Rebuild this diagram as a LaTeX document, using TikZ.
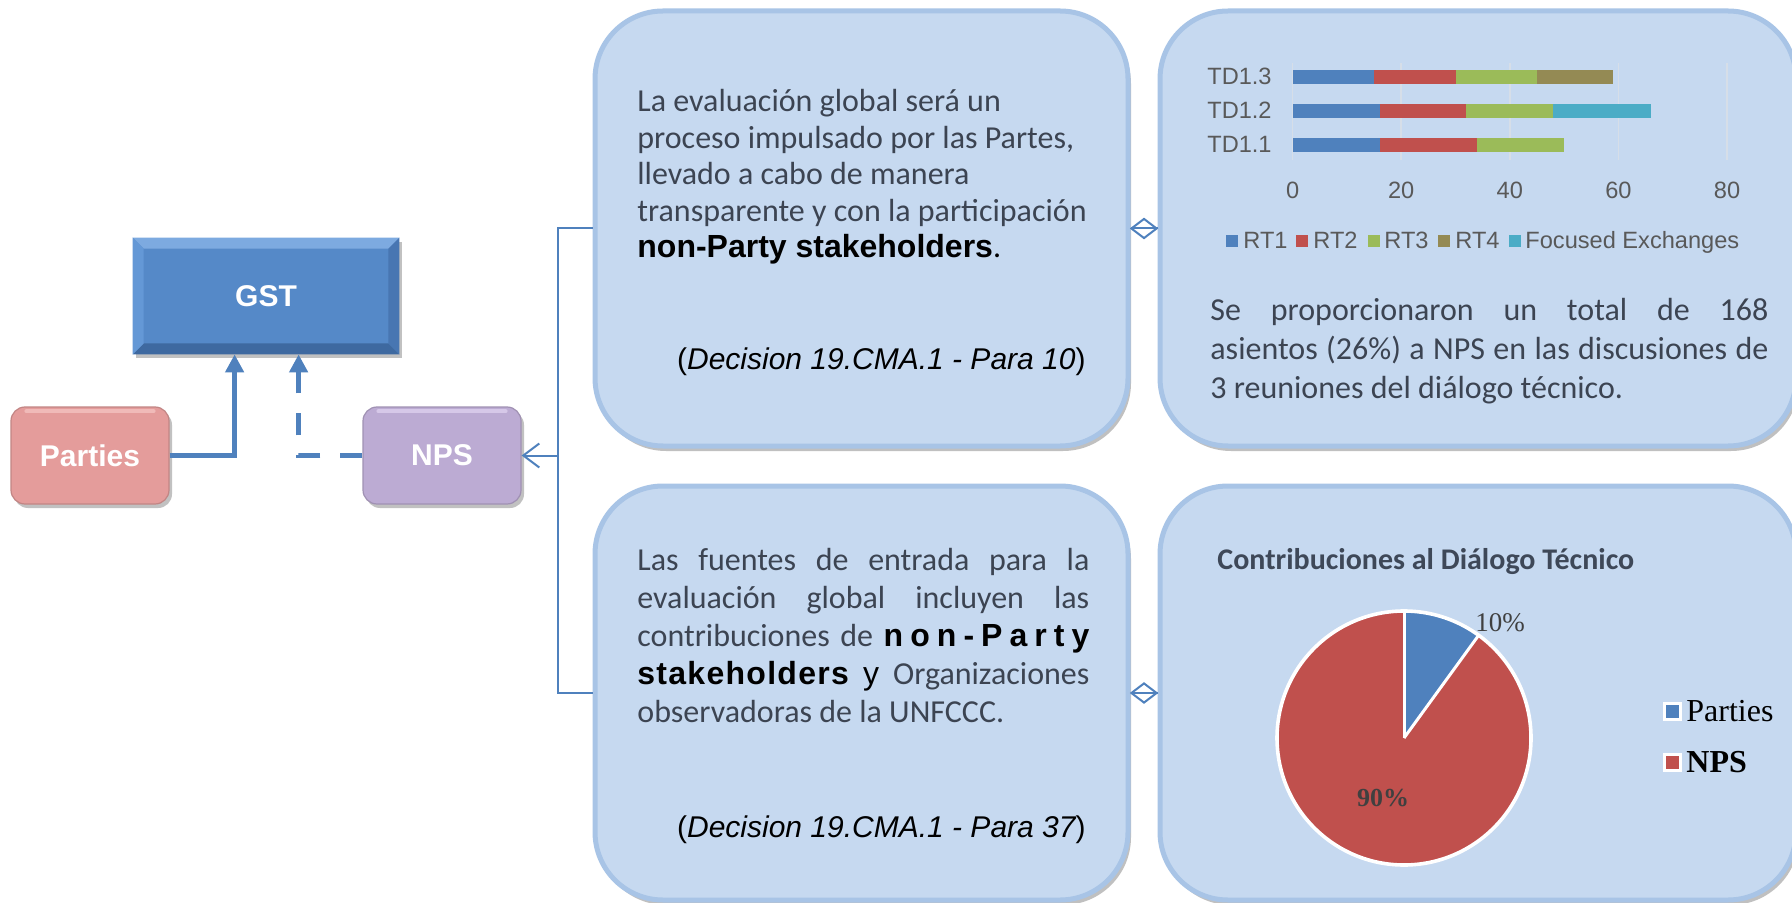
\documentclass[tikz,border=0pt]{standalone}
\usepackage{fontspec}
\setmainfont{Carlito}
\newfontfamily\arialf{Liberation Sans}
\newfontfamily\timesf{Liberation Serif}
\newfontfamily\spacedf[LetterSpace=22]{Liberation Sans}
\newfontfamily\lspacedf[LetterSpace=4]{Liberation Sans}
\usetikzlibrary{arrows.meta,shadows,shapes.geometric,calc}
\definecolor{boxfill}{RGB}{198,217,240}
\definecolor{boxedge}{RGB}{168,196,230}
\definecolor{lblue}{RGB}{79,129,189}
\definecolor{gstblue}{RGB}{85,137,200}
\definecolor{gsttop}{RGB}{125,170,224}
\definecolor{gstleft}{RGB}{100,152,214}
\definecolor{gstright}{RGB}{72,118,178}
\definecolor{gstbot}{RGB}{62,105,160}
\definecolor{partyred}{RGB}{228,156,155}
\definecolor{partyhi}{RGB}{240,186,184}
\definecolor{npspurple}{RGB}{188,171,211}
\definecolor{npshi}{RGB}{214,200,232}
\definecolor{txtc}{RGB}{60,68,82}
\definecolor{axisgray}{RGB}{89,89,89}
\definecolor{gridc}{RGB}{214,222,232}
\definecolor{rtone}{RGB}{79,129,189}
\definecolor{rttwo}{RGB}{192,80,77}
\definecolor{rtthree}{RGB}{155,187,89}
\definecolor{rtfour}{RGB}{148,138,84}
\definecolor{focus}{RGB}{75,172,198}
\definecolor{titlec}{RGB}{62,72,88}
\tikzset{
  panel/.style={rectangle, rounded corners=34pt, fill=boxfill, draw=boxedge, line width=2.5pt,
    minimum width=266.5pt, minimum height=217.5pt, inner sep=0pt,
    drop shadow={shadow xshift=1.5pt, shadow yshift=-2.5pt, opacity=0.35, fill=black!70}},
  widepanel/.style={panel, minimum width=318pt},
  actor/.style={rectangle, rounded corners=7pt, minimum width=79pt, minimum height=48.5pt, inner sep=0pt,
    text=white, font=\arialf\bfseries\fontsize{15pt}{18pt}\selectfont, line width=0.6pt,
    drop shadow={shadow xshift=1.5pt, shadow yshift=-2pt, opacity=0.4, fill=black!60}},
  gstbox/.style={rectangle, fill=gstblue, minimum width=133pt, minimum height=58pt, inner sep=0pt,
    text=white, font=\arialf\bfseries\fontsize{15pt}{18pt}\selectfont,
    drop shadow={shadow xshift=1.5pt, shadow yshift=-2pt, opacity=0.4, fill=black!60}},
  flow/.style={draw=lblue, line width=2.5pt, -{Triangle[length=9pt,width=9pt]}},
  thinconn/.style={draw=lblue, line width=1pt},
  diamondmark/.style={diamond, draw=lblue, line width=1pt, minimum width=13pt, minimum height=10pt, inner sep=0pt},
  bodytext/.style={anchor=base west, inner sep=0pt, text=txtc, font=\fontsize{16pt}{19pt}\selectfont},
  smalltext/.style={anchor=base west, inner sep=0pt, text=txtc, font=\fontsize{16pt}{19pt}\selectfont},
  decision/.style={anchor=base east, inner sep=0pt, text=black, font=\arialf\fontsize{15pt}{18pt}\selectfont},
  charttext/.style={inner sep=0pt, text=axisgray, font=\arialf\fontsize{11.8pt}{14pt}\selectfont},
  piekey/.style={rectangle, draw=white, line width=1.5pt, minimum size=8pt, inner sep=0pt},
}
\begin{document}
\begin{tikzpicture}[x=0.5pt,y=-0.5pt]
\useasboundingbox[fill=white] (0,0) rectangle (1792,903);

% ---------- panels ----------
\node[panel] (tm) at (861.5,228.5) {};
\node[panel, minimum height=207pt] (bm) at (861.5,693) {};
\node[widepanel] (tr) at (1478,228.5) {};
\node[widepanel, minimum height=207pt] (br) at (1478,693) {};

% ---------- left diagram ----------
\node[gstbox] (gst) at (266,296) {GST};
\fill[gsttop] (gst.north west) -- (gst.north east) -- ([shift={(-11,11)}]gst.north east) -- ([shift={(11,11)}]gst.north west) -- cycle;
\fill[gstbot] (gst.south west) -- (gst.south east) -- ([shift={(-11,-11)}]gst.south east) -- ([shift={(11,-11)}]gst.south west) -- cycle;
\fill[gstleft] (gst.north west) -- ([shift={(11,11)}]gst.north west) -- ([shift={(11,-11)}]gst.south west) -- (gst.south west) -- cycle;
\fill[gstright] (gst.north east) -- ([shift={(-11,11)}]gst.north east) -- ([shift={(-11,-11)}]gst.south east) -- (gst.south east) -- cycle;

\node[actor, fill=partyred, draw=partyred!85!black] (parties) at (90,455.5) {Parties};
\node[actor, fill=npspurple, draw=npspurple!85!black] (nps) at (442,455.5) {NPS};
\draw[partyhi, line width=2pt, line cap=round] ([shift={(16,5)}]parties.north west) -- ([shift={(-16,5)}]parties.north east);
\draw[npshi, line width=2pt, line cap=round] ([shift={(16,5)}]nps.north west) -- ([shift={(-16,5)}]nps.north east);

\draw[flow] (parties.east) -| ($(gst.south west)+(102,0)$);
\draw[flow, dash pattern=on 11pt off 10pt] (nps.west) -| ($(gst.south west)+(166,0)$);

% bracket connector
\coordinate (bx) at (558,455.5);
\draw[thinconn] (tm.west) -| (bx);
\draw[thinconn] (bx) |- (bm.west);
\draw[thinconn, -{Straight Barb[length=8pt,width=12pt,line width=1pt]}] (bx) -- (nps.east);

% diamond connectors
\draw[thinconn] (tm.east) -- node[diamondmark] {} (tr.west);
\draw[thinconn] (bm.east) -- node[diamondmark] {} (br.west);

% ---------- top middle text ----------
\node[bodytext] at (637,112) {La evaluación global será un};
\node[bodytext] at (637,148.5) {proceso impulsado por las Partes,};
\node[bodytext] at (637,185) {llevado a cabo de manera};
\node[bodytext] at (637,221.5) {transparente y con la participación};
\node[bodytext, text=black] at (637,258) {{\arialf\bfseries non-Party stakeholders}.};
\node[decision] at (1086,370) {({\itshape Decision 19.CMA.1 - Para 10})};

% ---------- bottom middle text ----------
\node[bodytext] at (637,570) {\makebox[226pt][s]{Las fuentes de entrada para la}};
\node[bodytext] at (637,608) {\makebox[226pt][s]{evaluación global incluyen las}};
\node[bodytext] at (637,646) {\makebox[226pt][s]{contribuciones de \textcolor{black}{\spacedf\bfseries non-Party}}};
\node[bodytext] at (637,684) {\makebox[226pt][s]{\textcolor{black}{\lspacedf\bfseries stakeholders} \textcolor{black}{\arialf y} Organizaciones}};
\node[bodytext] at (637,722) {observadoras de la UNFCCC.};
\node[decision] at (1086,837) {({\itshape Decision 19.CMA.1 - Para 37})};

% ---------- bar chart ----------
\foreach \v in {0,20,40,60,80} {
  \draw[gridc, line width=0.8pt] ({1292.6+5.43*\v},63) -- ({1292.6+5.43*\v},160);
  \node[charttext, anchor=base] at ({1292.6+5.43*\v},199) {\v};
}
\foreach \y/\a/\b/\c in {77/0/15/rtone, 77/15/30/rttwo, 77/30/45/rtthree, 77/45/59/rtfour,
                          111/0/16/rtone, 111/16/32/rttwo, 111/32/48/rtthree, 111/48/66/focus,
                          145/0/16/rtone, 145/16/34/rttwo, 145/34/50/rtthree} {
  \fill[\c] ({1292.6+5.43*\a},{\y-7}) rectangle ({1292.6+5.43*\b},{\y+7});
}
\node[charttext, anchor=base east] at (1272,85) {TD1.3};
\node[charttext, anchor=base east] at (1272,119) {TD1.2};
\node[charttext, anchor=base east] at (1272,153) {TD1.1};
% legend
\foreach \mx/\tx/\c/\t in {1226/1243/rtone/RT1, 1296/1313/rttwo/RT2, 1368/1384/rtthree/RT3, 1438/1455/rtfour/RT4, 1509/1525/focus/Focused Exchanges} {
  \fill[\c] (\mx,235) rectangle ({\mx+12},247);
  \node[charttext, anchor=base west] at (\tx,249) {\t};
}

% ---------- top right text ----------
\node[smalltext] at (1210,321) {\makebox[279pt][s]{Se proporcionaron un total de 168}};
\node[smalltext] at (1210,360) {\makebox[279pt][s]{asientos (26\%) a NPS en las discusiones de}};
\node[smalltext] at (1210,398) {3 reuniones del diálogo técnico.};

% ---------- pie chart ----------
\node[anchor=base west, inner sep=0pt, text=titlec, font=\bfseries\fontsize{15pt}{18pt}\selectfont] at (1217,569) {Contribuciones al Diálogo Técnico};
\node[circle, fill=rttwo, minimum size=127pt, inner sep=0pt] (pie) at (1404,738) {};
\fill[rtone] (pie.center) -- ($(pie.center)+(0,-127)$) arc[start angle=-90, end angle=-54, radius=127] -- cycle;
\draw[white, line width=1.5pt] (pie.center) -- ($(pie.center)+(0,-127)$);
\draw[white, line width=1.5pt] (pie.center) -- ($(pie.center)+(-54:127)$);
\draw[white, line width=1.8pt] (pie.center) circle[radius=127];
\node[inner sep=0pt, text=black!75, font=\timesf\fontsize{13.5pt}{16pt}\selectfont] at (1500,623) {10\%};
\node[inner sep=0pt, text=black!75, font=\timesf\bfseries\fontsize{13pt}{16pt}\selectfont] at (1383,798) {90\%};
\node[piekey, fill=rtone] (lp) at (1672,711) {};
\node[piekey, fill=rttwo] (ln) at (1672,762) {};
\node[anchor=west, inner sep=0pt, font=\timesf\fontsize{16pt}{19pt}\selectfont] at (1686,711) {Parties};
\node[anchor=west, inner sep=0pt, font=\timesf\bfseries\fontsize{16pt}{19pt}\selectfont] at (1686,762) {NPS};
\end{tikzpicture}
\end{document}
